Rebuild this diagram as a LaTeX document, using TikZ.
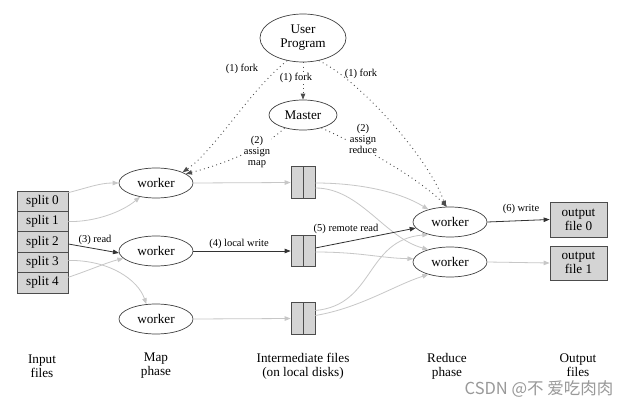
\documentclass[tikz,border=0pt]{standalone}
\usepackage{fontspec}
\setmainfont{Liberation Serif}
\newfontfamily\cjk{Noto Sans CJK SC}
\usetikzlibrary{shapes.geometric,arrows.meta,calc}
\begin{document}
\begin{tikzpicture}[x=1pt,y=-1pt,
  every node/.style={font=\fontsize{13.2}{14}\selectfont, align=center, inner sep=0pt},
  ell/.style={ellipse, draw=black!75, line width=0.7pt, minimum width=74pt, minimum height=30pt},
  filebox/.style={rectangle, draw=black!70, fill=black!17, line width=0.7pt, minimum width=51pt, minimum height=20.4pt},
  inter/.style={rectangle, draw=black!70, fill=black!17, line width=0.7pt, minimum width=24pt, minimum height=31.5pt},
  outbox/.style={rectangle, draw=black!70, fill=black!17, line width=0.7pt, minimum width=57pt},
  lbl/.style={font=\fontsize{10.5}{11}\selectfont},
  wlbl/.style={lbl, fill=white, inner sep=1pt},
  tip/.style={-{Triangle[length=6pt,width=4.5pt]}},
  gr/.style={tip, draw=black!22, line width=0.8pt},
  dk/.style={tip, draw=black!80, line width=0.8pt},
  dot/.style={tip, draw=black!70, line width=0.9pt, dash pattern=on 0.9pt off 3.4pt},
]
\useasboundingbox[fill=white] (0,0) rectangle (634,401);

% nodes
\node[ell, minimum width=86pt, minimum height=48pt] (up) at (303,38) {User\\Program};
\node[ell, minimum width=68pt, minimum height=30pt] (ms) at (303,115) {Master};
\node[ell] (m1) at (156,183) {worker};
\node[ell] (m2) at (156,251) {worker};
\node[ell] (m3) at (156,319) {worker};
\node[ell] (r1) at (450,222) {worker};
\node[ell] (r2) at (450,262) {worker};

\node[filebox] (s0) at (42.5,201.2) {split 0};
\node[filebox] (s1) at (42.5,221.6) {split 1};
\node[filebox] (s2) at (42.5,242.0) {split 2};
\node[filebox] (s3) at (42.5,262.4) {split 3};
\node[filebox] (s4) at (42.5,282.8) {split 4};

\node[inter] (f1) at (303,182.5) {};
\node[inter] (f2) at (303,251) {};
\node[inter] (f3) at (303,318.5) {};
\foreach \f in {f1,f2,f3} \draw[draw=black!70, line width=0.7pt] (\f.north) -- (\f.south);

\node[outbox, minimum height=35pt] (o0) at (578.5,219.5) {output\\file 0};
\node[outbox, minimum height=34pt] (o1) at (578.5,263) {output\\file 1};

% input -> map
\draw[gr] ($(s0.north east)+(0,2)$) .. controls (90,187) and (100,183) .. (m1.west);
\draw[gr] (s1.east) .. controls (95,222) and (122,212) .. (m1.221);
\draw[dk] ($(s2.east)+(0,2)$) -- (m2.183);
\draw[gr] ($(s3.east)+(0,-2)$) .. controls (110,260) and (138,280) .. (m3.123);
\draw[gr] ($(s4.north east)+(0,5)$) .. controls (90,270) and (108,262) .. (m2.193);

% map -> intermediate
\draw[gr] (m1.east) -- (f1.west);
\draw[dk] (m2.east) -- (f2.west);
\draw[gr] (m3.east) -- (f3.west);

% intermediate -> reduce
\draw[gr] ($(f1.east)+(0,0.5)$) .. controls (360,183) and (400,192) .. (r1.150);
\draw[gr] ($(f1.east)+(0,5.5)$) .. controls (360,188) and (385,238) .. (r2.150);
\draw[gr] ($(f2.east)+(0,1)$) .. controls (360,252) and (380,258) .. (r2.175);
\draw[gr] ($(f3.east)+(0,-8)$) .. controls (375,305) and (365,240) .. (r1.210);
\draw[gr] ($(f3.east)+(0,-3)$) .. controls (360,308) and (395,285) .. (r2.210);
\draw[dk] ($(f2.east)+(0,-3)$) -- (r1.190);

% reduce -> output
\draw[dk] (r1.east) -- (o0.west);
\draw[gr] (r2.east) -- (o1.west);

% control (dotted)
\draw[dot] (up.235) .. controls (250,90) and (215,150) .. (m1.22);
\draw[dot] (ms.215) .. controls (262,150) and (220,165) .. (m1.17);
\draw[dot] (up.south) -- (ms.north);
\draw[dot] (up.305) .. controls (360,80) and (430,160) .. (r1.106);
\draw[dot] (ms.325) .. controls (370,150) and (420,180) .. (r1.101);

% labels
\node[lbl] (l1) at (242,69) {(1) fork};
\node[wlbl] (l2) at (296,78) {(1) fork};
\node[lbl] (l3) at (361,74) {(1) fork};
\node[wlbl] (l4) at (257,152) {(2)\\assign\\map};
\node[wlbl] (l5) at (363,139) {(2)\\assign\\reduce};
\node[lbl] (l6) at (95,240) {(3) read};
\node[lbl] (l7) at (239,244) {(4) local write};
\node[lbl] (l8) at (346,229) {(5) remote read};
\node[lbl] (l9) at (521,209) {(6) write};

% bottom captions
\node (c1) at (42,366) {Input\\files};
\node (c2) at (156,366) {Map\\phase};
\node (c3) at (303,366) {Intermediate files\\(on local disks)};
\node (c4) at (447,366) {Reduce\\phase};
\node (c5) at (578,365) {Output\\files};

\node[text=black!40, font=\cjk\fontsize{16.5}{17}\selectfont] (wm) at (539,389) {CSDN @不 爱吃肉肉};
\end{tikzpicture}
\end{document}
